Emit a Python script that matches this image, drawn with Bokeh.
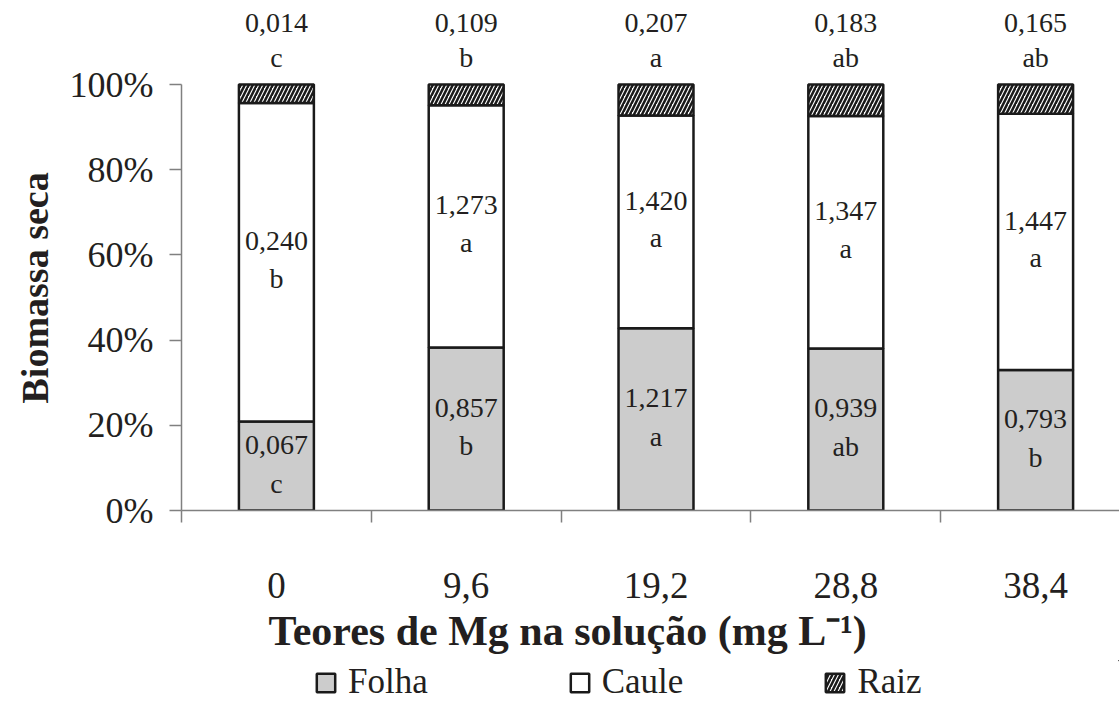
from bokeh.plotting import figure
from bokeh.layouts import column
from bokeh.models import (Range1d, FixedTicker, PrintfTickFormatter, Legend, LegendItem,
                          ColumnDataSource, Title)
from bokeh.core.properties import value
from bokeh.embed import file_html
from bokeh.resources import INLINE

categories = ["0", "9,6", "19,2", "28,8", "38,4"]
folha = [0.067, 0.857, 1.217, 0.939, 0.793]
caule = [0.240, 1.273, 1.420, 1.347, 1.447]
raiz = [0.014, 0.109, 0.207, 0.183, 0.165]
folha_letters = ["c", "b", "a", "ab", "b"]
caule_letters = ["b", "a", "a", "a", "a"]
raiz_letters = ["c", "b", "a", "ab", "ab"]
series_names = ["Folha", "Caule", "Raiz"]
y_ticks = [0, 20, 40, 60, 80, 100]

FONT = "Liberation Serif"
TXT = "#231f20"
AX = "#808080"
EDGE = "#1a1a1a"

x = list(range(len(categories)))
tot = [a + b + c for a, b, c in zip(folha, caule, raiz)]
pf = [100 * a / t for a, t in zip(folha, tot)]
pc = [100 * b / t for b, t in zip(caule, tot)]
f_top = pf
c_top = [a + b for a, b in zip(pf, pc)]
r_top = [100.0] * len(x)

def fmt(v):
    return f"{v:.3f}".replace(".", ",")

src = ColumnDataSource(dict(
    x=x, zero=[0] * len(x), f_top=f_top, c_top=c_top, r_top=r_top,
    f_mid=[t / 2 for t in f_top],
    c_mid=[(a + b) / 2 for a, b in zip(f_top, c_top)],
    f_lab=[fmt(v) for v in folha], c_lab=[fmt(v) for v in caule], r_lab=[fmt(v) for v in raiz],
    f_let=folha_letters, c_let=caule_letters, r_let=raiz_letters,
))

styles = [dict(fill_color="#cccccc", line_color=EDGE, line_width=2.5),
          dict(fill_color="white", line_color=EDGE, line_width=2.5),
          dict(fill_color="white", line_color=EDGE, line_width=2.5,
               hatch_pattern="/", hatch_color=EDGE, hatch_weight=2.5, hatch_scale=8)]

p = figure(width=1119, height=660, output_backend="svg", toolbar_location=None,
           x_range=Range1d(-0.5, 4.442), y_range=Range1d(0, 119.72),
           min_border_left=180, min_border_right=0, min_border_top=0, min_border_bottom=150)
p.outline_line_color = None
p.grid.visible = False

W = 0.395
p.vbar(x="x", bottom="zero", top="f_top", width=W, source=src, **styles[0])
p.vbar(x="x", bottom="f_top", top="c_top", width=W, source=src, **styles[1])
p.vbar(x="x", bottom="c_top", top="r_top", width=W, source=src, **styles[2])

common = dict(source=src, text_font=value(FONT), text_font_size="28px", text_color=TXT,
              text_align="center", text_baseline="middle")
p.text(x="x", y="f_mid", text="f_lab", y_offset=-21, **common)
p.text(x="x", y="f_mid", text="f_let", y_offset=17, **common)
p.text(x="x", y="c_mid", text="c_lab", y_offset=-21, **common)
p.text(x="x", y="c_mid", text="c_let", y_offset=16, **common)
p.text(x="x", y="r_top", text="r_lab", y_offset=-62, **common)
p.text(x="x", y="r_top", text="r_let", y_offset=-27, **common)

# y axis
ya = p.yaxis[0]
ya.ticker = FixedTicker(ticks=y_ticks)
ya.formatter = PrintfTickFormatter(format="%d%%")
ya.bounds = (0, 100)
ya.axis_line_color = AX
ya.axis_line_width = 1.5
ya.major_tick_line_color = AX
ya.major_tick_line_width = 1.5
ya.major_tick_out = 12
ya.major_tick_in = 0
ya.minor_tick_line_color = None
ya.major_label_standoff = 16
ya.major_label_text_font = FONT
ya.major_label_text_font_size = "36px"
ya.major_label_text_color = TXT
ya.axis_label = None

p.add_layout(Title(text="Biomassa seca", align="left", offset=107,
                   text_font=FONT, text_font_size="38px", text_font_style="bold",
                   text_line_height=0.7, text_color=TXT, standoff=22), "left")

# x axis
xa = p.xaxis[0]
xa.ticker = FixedTicker(ticks=x, minor_ticks=[-0.5, 0.5, 1.5, 2.5, 3.5])
xa.major_label_overrides = {i: c for i, c in zip(x, categories)}
xa.axis_line_color = AX
xa.axis_line_width = 1.5
xa.major_tick_line_color = None
xa.major_tick_out = 0
xa.major_tick_in = 0
xa.minor_tick_line_color = AX
xa.minor_tick_line_width = 1.5
xa.minor_tick_out = 12
xa.minor_tick_in = 0
xa.major_label_standoff = 50
xa.major_label_text_font = FONT
xa.major_label_text_font_size = "37px"
xa.major_label_text_color = TXT
xa.axis_label = None

p.add_layout(Title(text="Teores de Mg na solução (mg L⁻¹)", align="left", offset=87,
                   text_font=FONT, text_font_size="42px", text_font_style="bold",
                   text_color=TXT, standoff=10), "below")

# legend strip
lg = figure(width=1119, height=42, output_backend="svg", toolbar_location=None,
            x_range=Range1d(0, 1), y_range=Range1d(0, 1),
            min_border_left=0, min_border_right=0, min_border_top=0, min_border_bottom=0)
lg.axis.visible = False
lg.grid.visible = False
lg.outline_line_color = None
items = []
for name, st in zip(series_names, styles):
    r = lg.vbar(x=[5], bottom=[5], top=[6], width=0.1, **st)
    items.append(LegendItem(label=name, renderers=[r]))
legend = Legend(items=items, orientation="horizontal", location=(133, 0),
                glyph_width=23, glyph_height=23, label_standoff=11, spacing=140,
                padding=0, margin=0, border_line_color=None, background_fill_alpha=0,
                label_text_font=FONT, label_text_font_size="35px", label_text_color=TXT)
lg.add_layout(legend, "center")

layout = column(p, lg, spacing=0)
open("out.html", "w").write(file_html(layout, INLINE))
